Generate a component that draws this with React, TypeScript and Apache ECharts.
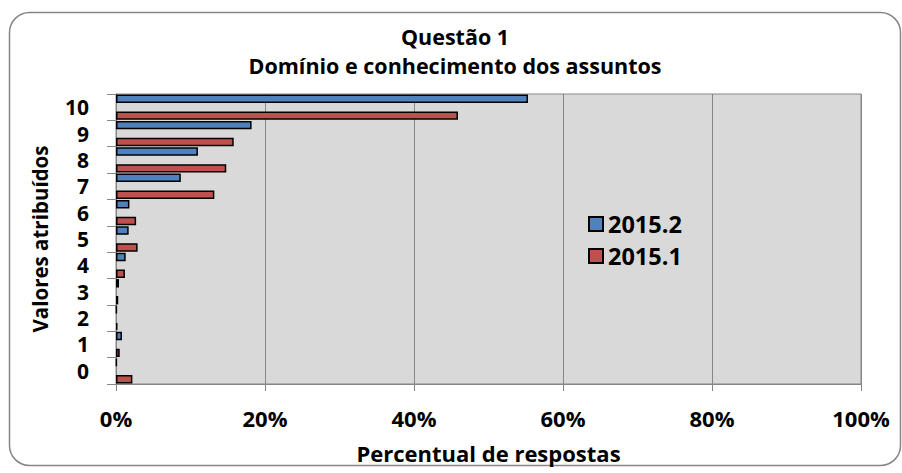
import React, { useEffect, useRef } from 'react';
import * as echarts from 'echarts';

const categories = ['0', '1', '2', '3', '4', '5', '6', '7', '8', '9', '10'];
const values2015_2 = [0.1, 0.8, 0.1, 0.4, 1.3, 1.7, 1.8, 8.7, 11.0, 18.2, 55.3];
const values2015_1 = [2.2, 0.5, 0.2, 0.3, 1.2, 2.9, 2.7, 13.2, 14.8, 15.8, 45.9];
const spacer = categories.map(() => null);
const titleLines = ['Questão 1', 'Domínio e conhecimento dos assuntos'];
const xAxisTitle = 'Percentual de respostas';
const yAxisTitle = 'Valores atribuídos';

const FONT = 'Open Sans';

export default function App() {
  const ref = useRef<HTMLDivElement>(null);
  useEffect(() => {
    document.body.style.margin = '0';
    const chart = echarts.init(ref.current!, null, { renderer: 'svg' });
    const barCommon = {
      type: 'bar',
      barGap: '0%',
      barCategoryGap: '4%',
      itemStyle: { borderColor: '#000', borderWidth: 1.5 },
    };
    chart.setOption({
      animation: false,
      backgroundColor: '#fff',
      textStyle: { fontFamily: FONT },
      title: {
        text: titleLines.join('\n'),
        left: 450,
        textAlign: 'center',
        top: 17,
        textStyle: { fontFamily: FONT, fontWeight: 'bold', fontSize: 21.5, lineHeight: 29, color: '#000' },
      },
      graphic: [
        {
          type: 'rect',
          shape: { x: 9.5, y: 12.5, width: 891, height: 453, r: 20 },
          style: { fill: 'none', stroke: '#868686', lineWidth: 1.5 },
          silent: true,
          z: 0,
        },
        {
          type: 'text',
          x: 40,
          y: 239,
          rotation: Math.PI / 2,
          style: {
            text: yAxisTitle,
            fontFamily: FONT,
            fontWeight: 'bold',
            fontSize: 20.5,
            fill: '#000',
            align: 'center',
            verticalAlign: 'middle',
          },
        },
      ],
      legend: {
        data: ['2015.2', '2015.1'],
        orient: 'vertical',
        left: 583,
        top: 207,
        itemWidth: 14,
        itemHeight: 14,
        itemGap: 8,
        icon: 'rect',
        textStyle: { fontFamily: FONT, fontWeight: 'bold', fontSize: 23.5, color: '#000' },
      },
      grid: {
        left: 116,
        top: 94,
        width: 745,
        height: 290,
        show: true,
        backgroundColor: '#d9d9d9',
        borderColor: '#868686',
        borderWidth: 1,
      },
      xAxis: {
        type: 'value',
        min: 0,
        max: 100,
        interval: 20,
        name: xAxisTitle,
        nameLocation: 'middle',
        nameGap: 58,
        nameTextStyle: { fontFamily: FONT, fontWeight: 'bold', fontSize: 22, color: '#000' },
        axisLine: { show: true, lineStyle: { color: '#868686', width: 1 } },
        axisTick: { show: true, length: 7, lineStyle: { color: '#868686' } },
        axisLabel: {
          formatter: '{value}%',
          fontFamily: FONT,
          fontWeight: 'bold',
          fontSize: 22,
          color: '#000',
          margin: 23,
        },
        splitLine: { show: true, lineStyle: { color: '#868686', width: 1 } },
      },
      yAxis: {
        type: 'category',
        data: categories,
        axisLine: { show: true, lineStyle: { color: '#868686', width: 1 } },
        axisTick: { show: true, length: 9, interval: 0, lineStyle: { color: '#868686' } },
        axisLabel: {
          interval: 0,
          fontFamily: FONT,
          fontWeight: 'bold',
          fontSize: 21,
          color: '#000',
          margin: 27,
        },
        splitLine: { show: false },
      },
      series: [
        { ...barCommon, name: '2015.2', data: values2015_2, itemStyle: { ...barCommon.itemStyle, color: '#4f81bd' } },
        { ...barCommon, name: 'spacer', data: spacer, itemStyle: { color: 'transparent' } },
        { ...barCommon, name: '2015.1', data: values2015_1, itemStyle: { ...barCommon.itemStyle, color: '#c0504d' } },
      ],
    });
    return () => chart.dispose();
  }, []);
  return <div ref={ref} style={{ width: 902, height: 473 }} />;
}
